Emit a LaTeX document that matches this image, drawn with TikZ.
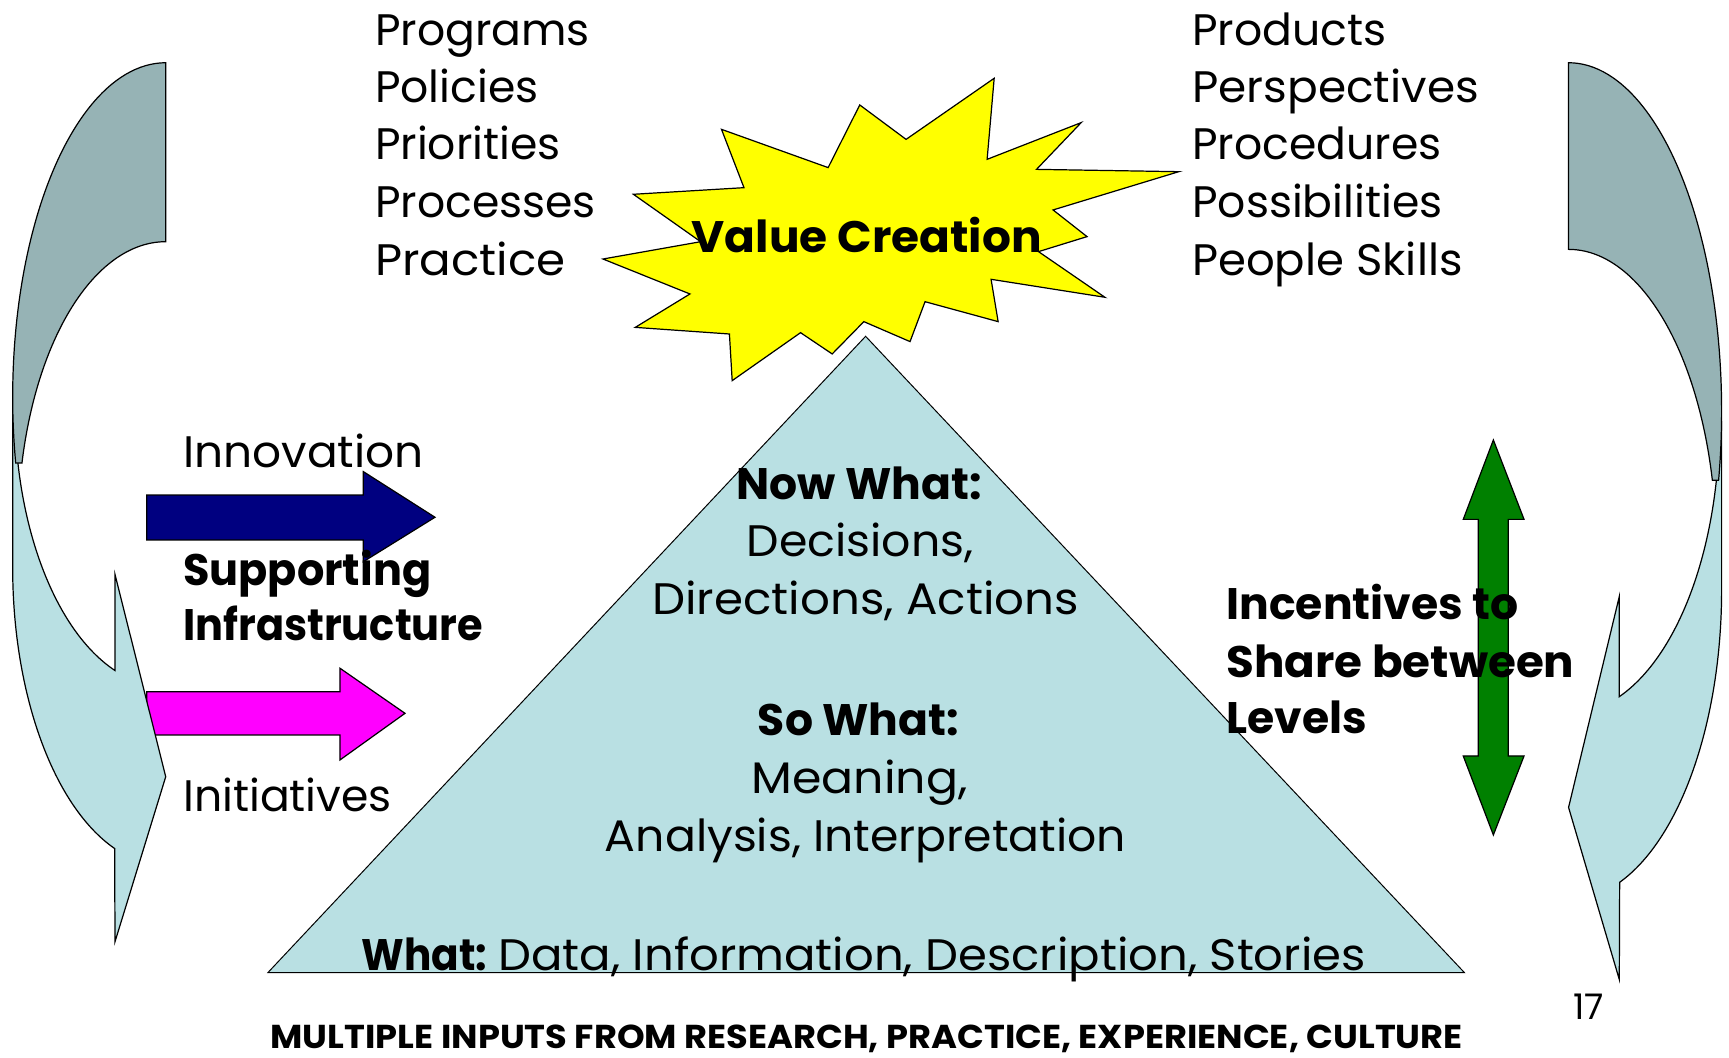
\documentclass[tikz,border=0pt]{standalone}
\usepackage{fontspec}
\usepackage{graphicx}
\setmainfont{Poppins}
\definecolor{bandDark}{RGB}{150,179,181}
\definecolor{bandLight}{RGB}{185,224,227}
\definecolor{navyA}{RGB}{0,0,128}
\definecolor{magA}{RGB}{255,0,255}
\definecolor{grnA}{RGB}{0,128,0}
\definecolor{starY}{RGB}{255,255,0}
\newcommand{\myCurvedArrow}{%
  \path[lightband] (-138.8,-312.1) -- (-138.8,-458.1)
     arc[start angle=180,end angle=250.5,x radius=138.8pt,y radius=270pt]
     -- (-46,-797.1) -- (0,-647.5) -- (-46,-464.1) -- (-46,-551.2)
     arc[start angle=250.3,end angle=180,x radius=137pt,y radius=254pt]
     -- cycle;
  \path[darkband] (0,0)
     arc[start angle=90,end angle=191.4,x radius=138.8pt,y radius=303.1pt]
     -- (-130.4,-363.1)
     arc[start angle=166.7,end angle=90,x radius=134pt,y radius=260.8pt]
     -- cycle;
}
\newcommand{\hs}[2]{\scalebox{#1}[1]{#2}}
\begin{document}
\begin{tikzpicture}[x=1pt,y=1pt,
  outl/.style={draw=black,line width=1.1pt,line join=miter},
  darkband/.style={outl,fill=bandDark},
  lightband/.style={outl,fill=bandLight},
  lbl/.style={inner sep=0pt,anchor=base west,font=\fontsize{40}{48}\selectfont},
  blbl/.style={inner sep=0pt,anchor=base west,font=\fontsize{40}{48}\selectfont\bfseries},
  clbl/.style={inner sep=0pt,anchor=base,font=\fontsize{40}{48}\selectfont},
  cblbl/.style={inner sep=0pt,anchor=base,font=\fontsize{40}{48}\selectfont\bfseries}
]
\useasboundingbox[fill=white] (0,0) rectangle (1568,959);

% magenta block arrow (under left curved arrow)
\path[outl,fill=magA] (133,331.7) -- (308.3,331.7) -- (308.3,353) -- (367.3,312.1)
  -- (308.3,269.8) -- (308.3,292.5) -- (133,292.5) -- cycle;

% curved arrows
\begin{scope}[shift={(150.3,902.1)}]
  \myCurvedArrow
\end{scope}
\begin{scope}[shift={(1422.5,902.1)},xscale=-1,yscale=1.043]
  \myCurvedArrow
\end{scope}

% pyramid
\path[outl,fill=bandLight,line width=0.9pt] (785,654) -- (1328,77) -- (243,77) -- cycle;

% starburst
\path[outl,fill=starY] (901.6,888) -- (895.2,814.5) -- (980.5,847.8) -- (940,805.4)
  -- (1069,803.3) -- (955,768.6) -- (985.8,744.4) -- (941.8,730.8) -- (1002,689.4)
  -- (898.8,705.7) -- (905.2,667.3) -- (838.9,685.4) -- (825.3,649.2) -- (783.4,667.3)
  -- (754.7,638) -- (726,657.3) -- (664,613.8) -- (661.5,656.1) -- (576.1,662.1)
  -- (625.7,692.4) -- (546.8,724.1) -- (635.4,739.8) -- (574.4,782.8) -- (674.7,788.8)
  -- (654.3,841.7) -- (751,807) -- (779.7,863.8) -- (821.7,832.6) -- cycle;

% navy block arrow
\path[outl,fill=navyA] (133,510) -- (329.5,510) -- (329.5,531.3) -- (394.5,489.9)
  -- (329.5,449.6) -- (329.5,469.3) -- (133,469.3) -- cycle;

% green double arrow
\path[outl,fill=grnA] (1354.3,560) -- (1382.1,488) -- (1367.8,488) -- (1367.8,273.4)
  -- (1382.1,273.4) -- (1354.3,201.8) -- (1327,273.4) -- (1340.6,273.4)
  -- (1340.6,488) -- (1327,488) -- cycle;

% left list
\node[lbl] (l1) at (340,918) {Programs};
\node[lbl] (l2) at (340,866) {Policies};
\node[lbl] (l3) at (340,814) {Priorities};
\node[lbl] (l4) at (340,762) {Processes};
\node[lbl] (l5) at (340,709) {\hs{1.06}{Practice}};
% right list
\node[lbl] (r1) at (1081,918) {Products};
\node[lbl] (r2) at (1081,866) {\hs{1.03}{Perspectives}};
\node[lbl] (r3) at (1081,814) {Procedures};
\node[lbl] (r4) at (1081,762) {Possibilities};
\node[lbl] (r5) at (1081,709) {\hs{1.02}{People Skills}};

\node[cblbl] (vc) at (786,730) {\hs{1.03}{Value Creation}};

\node[lbl] (inn) at (166,535) {\hs{1.03}{Innovation}};
\node[blbl] (sup1) at (166,428) {\hs{0.975}{Supporting}};
\node[blbl] (sup2) at (166,378) {\hs{0.94}{Infrastructure}};
\node[lbl] (ini) at (166,223) {Initiatives};

\node[blbl] (inc1) at (1112,397) {Incentives to};
\node[blbl] (inc2) at (1112,345) {\hs{1.025}{Share between}};
\node[blbl] (inc3) at (1112,294) {Levels};

\node[cblbl] (nw) at (779,506) {Now What:};
\node[clbl] (nw1) at (780,454) {\hs{1.04}{Decisions,}};
\node[clbl] (nw2) at (785,402) {\hs{1.06}{Directions, Actions}};
\node[cblbl] (sw) at (778.5,292) {So What:};
\node[clbl] (sw1) at (779.5,239) {\hs{1.075}{Meaning,}};
\node[clbl] (sw2) at (785,187) {\hs{1.037}{Analysis, Interpretation}};
\node[inner sep=0pt,anchor=base west,font=\fontsize{40}{48}\selectfont] (wh) at (328,79)
  {\hs{0.92}{\textbf{What:}}\hspace{10pt}\hs{1.055}{Data, Information, Description, Stories}};

\node[inner sep=0pt,anchor=base,font=\fontsize{30}{36}\selectfont\bfseries] (bot) at (786,8)
  {\hs{1.065}{MULTIPLE INPUTS FROM RESEARCH, PRACTICE, EXPERIENCE, CULTURE}};
\node[inner sep=0pt,anchor=base,font=\fontsize{32}{38}\selectfont] (pg) at (1441,34) {17};
\end{tikzpicture}
\end{document}
